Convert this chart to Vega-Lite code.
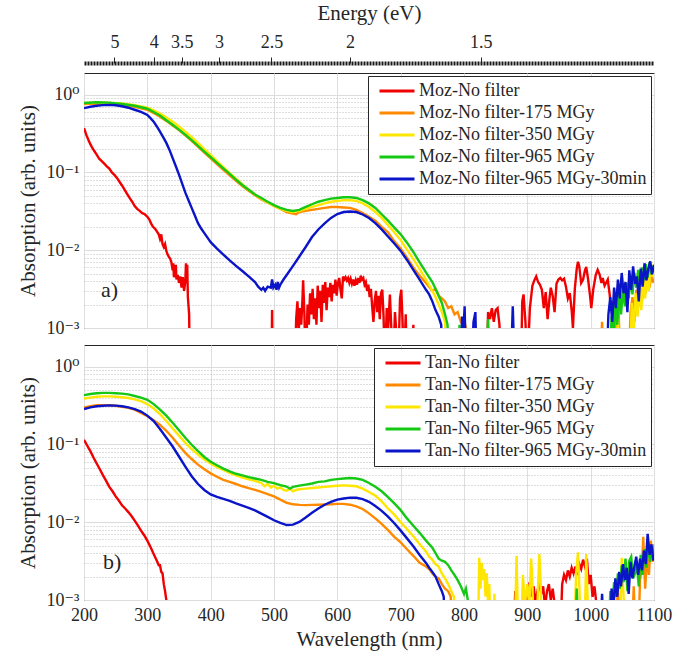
{
"$schema": "https://vega.github.io/schema/vega-lite/v6.json",
"padding": {"left": 16, "top": 1, "right": 6, "bottom": 2},
"config": {
  "font": "Liberation Serif, DejaVu Serif, serif",
  "view": {"stroke": "#262626", "strokeWidth": 1},
  "axis": {"labelFont": "Liberation Serif, DejaVu Serif, serif", "titleFont": "Liberation Serif, DejaVu Serif, serif", "labelFontSize": 18, "titleFontSize": 21, "titleFontWeight": "normal", "labelColor": "#262626", "titleColor": "#262626", "domain": false, "ticks": false, "gridColor": "#dedede", "gridWidth": 1},
  "legend": {"title": null, "orient": "top-right", "offset": 3, "fillColor": "white", "strokeColor": "#262626", "padding": 4, "symbolOffset": 6, "labelFont": "Liberation Serif, DejaVu Serif, serif", "labelFontSize": 18, "labelColor": "#262626", "symbolType": "stroke", "symbolStrokeWidth": 3, "symbolSize": 1225, "clipHeight": 22, "rowPadding": 0, "labelOffset": 3, "labelLimit": 400}
},
"datasets": {
"moz": [
{"s":1,"w":200,"v":0.37},{"s":1,"w":204,"v":0.3},{"s":1,"w":208,"v":0.25},{"s":1,"w":212,"v":0.215},{"s":1,"w":216,"v":0.19},{"s":1,"w":220,"v":0.17},{"s":1,"w":224,"v":0.15},{"s":1,"w":228,"v":0.14},{"s":1,"w":232,"v":0.13},{"s":1,"w":236,"v":0.12},{"s":1,"w":240,"v":0.112},{"s":1,"w":244,"v":0.1},{"s":1,"w":248,"v":0.093},{"s":1,"w":252,"v":0.085},{"s":1,"w":256,"v":0.076},{"s":1,"w":260,"v":0.068},{"s":1,"w":264,"v":0.06},{"s":1,"w":268,"v":0.053},{"s":1,"w":272,"v":0.047},{"s":1,"w":276,"v":0.042},{"s":1,"w":280,"v":0.037},{"s":1,"w":284,"v":0.034},{"s":1,"w":288,"v":0.032},{"s":1,"w":292,"v":0.03},{"s":1,"w":296,"v":0.029},{"s":1,"w":300,"v":0.027},{"s":1,"w":303,"v":0.025},{"s":1,"w":306,"v":0.022},{"s":1,"w":309,"v":0.02},{"s":1,"w":312,"v":0.019},{"s":1,"w":315,"v":0.0175},{"s":1,"w":318,"v":0.016},{"s":1,"w":320,"v":0.014},{"s":1,"w":322,"v":0.016},{"s":1,"w":324,"v":0.012},{"s":1,"w":326,"v":0.011},{"s":1,"w":328,"v":0.012},{"s":1,"w":330,"v":0.0098},{"s":1,"w":332,"v":0.0088},{"s":1,"w":334,"v":0.0082},{"s":1,"w":336,"v":0.0078},{"s":1,"w":338,"v":0.007},{"s":1,"w":340,"v":0.0055},{"s":1,"w":341,"v":0.0068},{"s":1,"w":342,"v":0.0045},{"s":1,"w":344,"v":0.0052},{"s":1,"w":345,"v":0.0065},{"s":1,"w":346,"v":0.0042},{"s":1,"w":348,"v":0.0048},{"s":1,"w":350,"v":0.0038},{"s":1,"w":352,"v":0.0046},{"s":1,"w":354,"v":0.0033},{"s":1,"w":356,"v":0.0045},{"s":1,"w":358,"v":0.003},{"s":1,"w":360,"v":0.004},{"s":1,"w":361,"v":0.0068},{"s":1,"w":362,"v":0.0045},{"s":1,"w":363,"v":0.0065},{"s":1,"w":364,"v":0.0025},{"s":1,"w":366,"v":0.0015},{"s":1,"w":367,"v":0.0003},{"s":1,"w":496,"v":0.0003},{"s":1,"w":497,"v":0.0017},{"s":1,"w":498,"v":0.0003},{"s":1,"w":533,"v":0.0003},{"s":1,"w":535,"v":0.0013},{"s":1,"w":537,"v":0.0022},{"s":1,"w":539,"v":0.0009},{"s":1,"w":541,"v":0.0018},{"s":1,"w":543,"v":0.0011},{"s":1,"w":545,"v":0.0024},{"s":1,"w":546,"v":0.0041},{"s":1,"w":548,"v":0.0015},{"s":1,"w":550,"v":0.0003},{"s":1,"w":553,"v":0.002},{"s":1,"w":555,"v":0.0011},{"s":1,"w":557,"v":0.0028},{"s":1,"w":559,"v":0.0015},{"s":1,"w":561,"v":0.0032},{"s":1,"w":563,"v":0.0013},{"s":1,"w":565,"v":0.0024},{"s":1,"w":567,"v":0.0011},{"s":1,"w":569,"v":0.0035},{"s":1,"w":571,"v":0.0018},{"s":1,"w":573,"v":0.003},{"s":1,"w":575,"v":0.0012},{"s":1,"w":577,"v":0.0036},{"s":1,"w":579,"v":0.0021},{"s":1,"w":581,"v":0.0039},{"s":1,"w":583,"v":0.0017},{"s":1,"w":585,"v":0.0033},{"s":1,"w":587,"v":0.0025},{"s":1,"w":589,"v":0.0038},{"s":1,"w":591,"v":0.0022},{"s":1,"w":593,"v":0.0036},{"s":1,"w":595,"v":0.0028},{"s":1,"w":597,"v":0.0042},{"s":1,"w":599,"v":0.0026},{"s":1,"w":601,"v":0.0038},{"s":1,"w":603,"v":0.0044},{"s":1,"w":605,"v":0.0031},{"s":1,"w":607,"v":0.0024},{"s":1,"w":609,"v":0.0046},{"s":1,"w":611,"v":0.0042},{"s":1,"w":613,"v":0.0045},{"s":1,"w":615,"v":0.0041},{"s":1,"w":617,"v":0.0044},{"s":1,"w":619,"v":0.0038},{"s":1,"w":621,"v":0.0043},{"s":1,"w":623,"v":0.0037},{"s":1,"w":625,"v":0.0042},{"s":1,"w":627,"v":0.0035},{"s":1,"w":629,"v":0.0041},{"s":1,"w":631,"v":0.0036},{"s":1,"w":633,"v":0.0044},{"s":1,"w":635,"v":0.0038},{"s":1,"w":637,"v":0.0047},{"s":1,"w":639,"v":0.0042},{"s":1,"w":641,"v":0.0044},{"s":1,"w":643,"v":0.0036},{"s":1,"w":645,"v":0.0039},{"s":1,"w":647,"v":0.003},{"s":1,"w":649,"v":0.0036},{"s":1,"w":651,"v":0.0025},{"s":1,"w":653,"v":0.0032},{"s":1,"w":655,"v":0.0019},{"s":1,"w":657,"v":0.0012},{"s":1,"w":659,"v":0.0022},{"s":1,"w":661,"v":0.003},{"s":1,"w":663,"v":0.0016},{"s":1,"w":665,"v":0.0026},{"s":1,"w":667,"v":0.0013},{"s":1,"w":669,"v":0.0028},{"s":1,"w":671,"v":0.0031},{"s":1,"w":673,"v":0.0014},{"s":1,"w":675,"v":0.0003},{"s":1,"w":678,"v":0.0018},{"s":1,"w":680,"v":0.0009},{"s":1,"w":683,"v":0.0027},{"s":1,"w":685,"v":0.0011},{"s":1,"w":688,"v":0.0003},{"s":1,"w":691,"v":0.0016},{"s":1,"w":693,"v":0.0009},{"s":1,"w":696,"v":0.0003},{"s":1,"w":699,"v":0.0024},{"s":1,"w":701,"v":0.0031},{"s":1,"w":703,"v":0.0012},{"s":1,"w":705,"v":0.0003},{"s":1,"w":708,"v":0.0015},{"s":1,"w":710,"v":0.0003},{"s":1,"w":718,"v":0.0003},{"s":1,"w":720,"v":0.0011},{"s":1,"w":722,"v":0.0003},{"s":1,"w":836,"v":0.0003},{"s":1,"w":838,"v":0.0016},{"s":1,"w":841,"v":0.0013},{"s":1,"w":844,"v":0.0018},{"s":1,"w":847,"v":0.0012},{"s":1,"w":850,"v":0.0017},{"s":1,"w":853,"v":0.0018},{"s":1,"w":856,"v":0.0011},{"s":1,"w":858,"v":0.0003},{"s":1,"w":890,"v":0.0003},{"s":1,"w":892,"v":0.0022},{"s":1,"w":894,"v":0.0027},{"s":1,"w":897,"v":0.0012},{"s":1,"w":900,"v":0.0003},{"s":1,"w":904,"v":0.0018},{"s":1,"w":908,"v":0.0035},{"s":1,"w":911,"v":0.0041},{"s":1,"w":914,"v":0.0046},{"s":1,"w":917,"v":0.0039},{"s":1,"w":920,"v":0.0036},{"s":1,"w":923,"v":0.0031},{"s":1,"w":926,"v":0.0018},{"s":1,"w":929,"v":0.0029},{"s":1,"w":932,"v":0.0013},{"s":1,"w":935,"v":0.0024},{"s":1,"w":937,"v":0.0033},{"s":1,"w":940,"v":0.0026},{"s":1,"w":943,"v":0.0016},{"s":1,"w":946,"v":0.0037},{"s":1,"w":949,"v":0.0042},{"s":1,"w":952,"v":0.0044},{"s":1,"w":955,"v":0.0041},{"s":1,"w":958,"v":0.0043},{"s":1,"w":961,"v":0.0034},{"s":1,"w":964,"v":0.0024},{"s":1,"w":967,"v":0.0028},{"s":1,"w":970,"v":0.0017},{"s":1,"w":972,"v":0.001},{"s":1,"w":975,"v":0.0032},{"s":1,"w":978,"v":0.0058},{"s":1,"w":980,"v":0.0071},{"s":1,"w":982,"v":0.0062},{"s":1,"w":985,"v":0.0038},{"s":1,"w":988,"v":0.0042},{"s":1,"w":991,"v":0.0055},{"s":1,"w":993,"v":0.0061},{"s":1,"w":996,"v":0.0042},{"s":1,"w":999,"v":0.0026},{"s":1,"w":1001,"v":0.0018},{"s":1,"w":1004,"v":0.0031},{"s":1,"w":1008,"v":0.0048},{"s":1,"w":1011,"v":0.0056},{"s":1,"w":1014,"v":0.0049},{"s":1,"w":1017,"v":0.0038},{"s":1,"w":1019,"v":0.0044},{"s":1,"w":1022,"v":0.0035},{"s":1,"w":1025,"v":0.0039},{"s":1,"w":1027,"v":0.0042},{"s":1,"w":1030,"v":0.0027},{"s":1,"w":1032,"v":0.0018},{"s":1,"w":1035,"v":0.0022},{"s":1,"w":1038,"v":0.0012},{"s":1,"w":1041,"v":0.0003},{"s":1,"w":1100,"v":0.0003},
{"s":2,"w":200,"v":0.76},{"s":2,"w":220,"v":0.77},{"s":2,"w":240,"v":0.76},{"s":2,"w":260,"v":0.74},{"s":2,"w":280,"v":0.7},{"s":2,"w":300,"v":0.64},{"s":2,"w":310,"v":0.58},{"s":2,"w":320,"v":0.52},{"s":2,"w":330,"v":0.46},{"s":2,"w":340,"v":0.4},{"s":2,"w":350,"v":0.35},{"s":2,"w":360,"v":0.3},{"s":2,"w":370,"v":0.255},{"s":2,"w":380,"v":0.215},{"s":2,"w":390,"v":0.18},{"s":2,"w":400,"v":0.152},{"s":2,"w":410,"v":0.128},{"s":2,"w":420,"v":0.108},{"s":2,"w":430,"v":0.092},{"s":2,"w":440,"v":0.078},{"s":2,"w":450,"v":0.067},{"s":2,"w":460,"v":0.058},{"s":2,"w":470,"v":0.051},{"s":2,"w":480,"v":0.045},{"s":2,"w":490,"v":0.041},{"s":2,"w":500,"v":0.037},{"s":2,"w":510,"v":0.034},{"s":2,"w":520,"v":0.031},{"s":2,"w":530,"v":0.0295},{"s":2,"w":535,"v":0.029},{"s":2,"w":540,"v":0.031},{"s":2,"w":550,"v":0.032},{"s":2,"w":560,"v":0.033},{"s":2,"w":570,"v":0.034},{"s":2,"w":580,"v":0.035},{"s":2,"w":590,"v":0.036},{"s":2,"w":600,"v":0.036},{"s":2,"w":610,"v":0.0355},{"s":2,"w":620,"v":0.035},{"s":2,"w":630,"v":0.033},{"s":2,"w":640,"v":0.03},{"s":2,"w":650,"v":0.027},{"s":2,"w":660,"v":0.024},{"s":2,"w":670,"v":0.02},{"s":2,"w":680,"v":0.017},{"s":2,"w":690,"v":0.013},{"s":2,"w":700,"v":0.0105},{"s":2,"w":710,"v":0.008},{"s":2,"w":720,"v":0.006},{"s":2,"w":730,"v":0.0047},{"s":2,"w":740,"v":0.0038},{"s":2,"w":750,"v":0.003},{"s":2,"w":755,"v":0.0032},{"s":2,"w":760,"v":0.0026},{"s":2,"w":765,"v":0.0024},{"s":2,"w":770,"v":0.0022},{"s":2,"w":775,"v":0.0018},{"s":2,"w":780,"v":0.0019},{"s":2,"w":785,"v":0.0015},{"s":2,"w":790,"v":0.0016},{"s":2,"w":795,"v":0.0012},{"s":2,"w":800,"v":0.0013},{"s":2,"w":803,"v":0.001},{"s":2,"w":805,"v":0.0003},{"s":2,"w":1015,"v":0.0003},{"s":2,"w":1018,"v":0.0012},{"s":2,"w":1021,"v":0.0003},{"s":2,"w":1035,"v":0.0003},{"s":2,"w":1038,"v":0.0014},{"s":2,"w":1041,"v":0.0009},{"s":2,"w":1044,"v":0.0018},{"s":2,"w":1047,"v":0.0003},{"s":2,"w":1060,"v":0.0003},{"s":2,"w":1063,"v":0.0016},{"s":2,"w":1066,"v":0.0025},{"s":2,"w":1069,"v":0.0012},{"s":2,"w":1072,"v":0.0031},{"s":2,"w":1075,"v":0.0019},{"s":2,"w":1078,"v":0.0035},{"s":2,"w":1081,"v":0.0022},{"s":2,"w":1084,"v":0.0041},{"s":2,"w":1087,"v":0.0028},{"s":2,"w":1090,"v":0.0046},{"s":2,"w":1093,"v":0.0033},{"s":2,"w":1096,"v":0.005},{"s":2,"w":1099,"v":0.0038},
{"s":3,"w":200,"v":0.78},{"s":3,"w":220,"v":0.79},{"s":3,"w":240,"v":0.78},{"s":3,"w":260,"v":0.77},{"s":3,"w":280,"v":0.73},{"s":3,"w":300,"v":0.68},{"s":3,"w":310,"v":0.63},{"s":3,"w":320,"v":0.57},{"s":3,"w":330,"v":0.51},{"s":3,"w":340,"v":0.45},{"s":3,"w":350,"v":0.39},{"s":3,"w":360,"v":0.335},{"s":3,"w":370,"v":0.285},{"s":3,"w":380,"v":0.24},{"s":3,"w":390,"v":0.2},{"s":3,"w":400,"v":0.168},{"s":3,"w":410,"v":0.14},{"s":3,"w":420,"v":0.117},{"s":3,"w":430,"v":0.098},{"s":3,"w":440,"v":0.083},{"s":3,"w":450,"v":0.07},{"s":3,"w":460,"v":0.06},{"s":3,"w":470,"v":0.052},{"s":3,"w":480,"v":0.046},{"s":3,"w":490,"v":0.041},{"s":3,"w":500,"v":0.037},{"s":3,"w":510,"v":0.034},{"s":3,"w":520,"v":0.032},{"s":3,"w":530,"v":0.031},{"s":3,"w":540,"v":0.032},{"s":3,"w":550,"v":0.034},{"s":3,"w":560,"v":0.036},{"s":3,"w":570,"v":0.038},{"s":3,"w":580,"v":0.04},{"s":3,"w":590,"v":0.042},{"s":3,"w":600,"v":0.043},{"s":3,"w":610,"v":0.044},{"s":3,"w":620,"v":0.044},{"s":3,"w":630,"v":0.043},{"s":3,"w":640,"v":0.04},{"s":3,"w":650,"v":0.036},{"s":3,"w":660,"v":0.031},{"s":3,"w":670,"v":0.026},{"s":3,"w":680,"v":0.021},{"s":3,"w":690,"v":0.017},{"s":3,"w":700,"v":0.0135},{"s":3,"w":710,"v":0.0102},{"s":3,"w":720,"v":0.0077},{"s":3,"w":730,"v":0.0057},{"s":3,"w":740,"v":0.0042},{"s":3,"w":750,"v":0.003},{"s":3,"w":755,"v":0.0025},{"s":3,"w":760,"v":0.002},{"s":3,"w":765,"v":0.0016},{"s":3,"w":770,"v":0.0012},{"s":3,"w":773,"v":0.0003},{"s":3,"w":1040,"v":0.0003},{"s":3,"w":1043,"v":0.0013},{"s":3,"w":1046,"v":0.0003},{"s":3,"w":1062,"v":0.0003},{"s":3,"w":1065,"v":0.0021},{"s":3,"w":1068,"v":0.0009},{"s":3,"w":1071,"v":0.0028},{"s":3,"w":1074,"v":0.0014},{"s":3,"w":1077,"v":0.0035},{"s":3,"w":1080,"v":0.0017},{"s":3,"w":1083,"v":0.0042},{"s":3,"w":1086,"v":0.0024},{"s":3,"w":1089,"v":0.0052},{"s":3,"w":1092,"v":0.003},{"s":3,"w":1095,"v":0.0072},{"s":3,"w":1098,"v":0.0045},
{"s":4,"w":200,"v":0.78},{"s":4,"w":220,"v":0.8},{"s":4,"w":240,"v":0.79},{"s":4,"w":260,"v":0.76},{"s":4,"w":280,"v":0.72},{"s":4,"w":300,"v":0.66},{"s":4,"w":310,"v":0.6},{"s":4,"w":320,"v":0.54},{"s":4,"w":330,"v":0.47},{"s":4,"w":340,"v":0.41},{"s":4,"w":350,"v":0.355},{"s":4,"w":360,"v":0.305},{"s":4,"w":370,"v":0.26},{"s":4,"w":380,"v":0.22},{"s":4,"w":390,"v":0.185},{"s":4,"w":400,"v":0.157},{"s":4,"w":410,"v":0.133},{"s":4,"w":420,"v":0.113},{"s":4,"w":430,"v":0.096},{"s":4,"w":440,"v":0.081},{"s":4,"w":450,"v":0.069},{"s":4,"w":460,"v":0.06},{"s":4,"w":470,"v":0.052},{"s":4,"w":480,"v":0.047},{"s":4,"w":490,"v":0.042},{"s":4,"w":500,"v":0.038},{"s":4,"w":510,"v":0.035},{"s":4,"w":520,"v":0.033},{"s":4,"w":530,"v":0.032},{"s":4,"w":540,"v":0.033},{"s":4,"w":550,"v":0.036},{"s":4,"w":560,"v":0.039},{"s":4,"w":570,"v":0.042},{"s":4,"w":580,"v":0.044},{"s":4,"w":590,"v":0.046},{"s":4,"w":600,"v":0.047},{"s":4,"w":610,"v":0.048},{"s":4,"w":620,"v":0.048},{"s":4,"w":630,"v":0.047},{"s":4,"w":640,"v":0.044},{"s":4,"w":650,"v":0.04},{"s":4,"w":660,"v":0.035},{"s":4,"w":670,"v":0.029},{"s":4,"w":680,"v":0.024},{"s":4,"w":690,"v":0.0195},{"s":4,"w":700,"v":0.016},{"s":4,"w":710,"v":0.0125},{"s":4,"w":720,"v":0.0095},{"s":4,"w":730,"v":0.007},{"s":4,"w":740,"v":0.0052},{"s":4,"w":750,"v":0.0039},{"s":4,"w":755,"v":0.0032},{"s":4,"w":760,"v":0.0026},{"s":4,"w":765,"v":0.0021},{"s":4,"w":770,"v":0.0015},{"s":4,"w":774,"v":0.0011},{"s":4,"w":776,"v":0.0003},{"s":4,"w":790,"v":0.0003},{"s":4,"w":793,"v":0.0011},{"s":4,"w":796,"v":0.0003},{"s":4,"w":835,"v":0.0003},{"s":4,"w":838,"v":0.0013},{"s":4,"w":841,"v":0.0003},{"s":4,"w":1030,"v":0.0003},{"s":4,"w":1033,"v":0.0014},{"s":4,"w":1036,"v":0.0008},{"s":4,"w":1039,"v":0.0022},{"s":4,"w":1042,"v":0.0011},{"s":4,"w":1045,"v":0.0028},{"s":4,"w":1048,"v":0.0015},{"s":4,"w":1051,"v":0.0032},{"s":4,"w":1054,"v":0.0019},{"s":4,"w":1057,"v":0.0038},{"s":4,"w":1060,"v":0.0024},{"s":4,"w":1063,"v":0.0045},{"s":4,"w":1066,"v":0.0027},{"s":4,"w":1069,"v":0.0051},{"s":4,"w":1072,"v":0.0033},{"s":4,"w":1075,"v":0.0056},{"s":4,"w":1078,"v":0.0036},{"s":4,"w":1081,"v":0.006},{"s":4,"w":1084,"v":0.0041},{"s":4,"w":1087,"v":0.0066},{"s":4,"w":1090,"v":0.0044},{"s":4,"w":1093,"v":0.007},{"s":4,"w":1096,"v":0.0049},{"s":4,"w":1099,"v":0.0063},
{"s":5,"w":200,"v":0.67},{"s":5,"w":210,"v":0.7},{"s":5,"w":220,"v":0.72},{"s":5,"w":230,"v":0.735},{"s":5,"w":240,"v":0.74},{"s":5,"w":250,"v":0.73},{"s":5,"w":260,"v":0.71},{"s":5,"w":270,"v":0.68},{"s":5,"w":280,"v":0.64},{"s":5,"w":290,"v":0.6},{"s":5,"w":300,"v":0.55},{"s":5,"w":305,"v":0.5},{"s":5,"w":310,"v":0.45},{"s":5,"w":315,"v":0.39},{"s":5,"w":320,"v":0.335},{"s":5,"w":325,"v":0.285},{"s":5,"w":330,"v":0.24},{"s":5,"w":335,"v":0.195},{"s":5,"w":340,"v":0.153},{"s":5,"w":345,"v":0.12},{"s":5,"w":350,"v":0.094},{"s":5,"w":355,"v":0.072},{"s":5,"w":360,"v":0.055},{"s":5,"w":365,"v":0.044},{"s":5,"w":370,"v":0.035},{"s":5,"w":375,"v":0.028},{"s":5,"w":380,"v":0.0223},{"s":5,"w":385,"v":0.019},{"s":5,"w":390,"v":0.0166},{"s":5,"w":395,"v":0.0145},{"s":5,"w":400,"v":0.0127},{"s":5,"w":410,"v":0.0105},{"s":5,"w":420,"v":0.0088},{"s":5,"w":430,"v":0.0074},{"s":5,"w":440,"v":0.0063},{"s":5,"w":450,"v":0.0054},{"s":5,"w":460,"v":0.0046},{"s":5,"w":470,"v":0.0039},{"s":5,"w":475,"v":0.0034},{"s":5,"w":480,"v":0.0031},{"s":5,"w":483,"v":0.0033},{"s":5,"w":486,"v":0.003},{"s":5,"w":490,"v":0.0034},{"s":5,"w":495,"v":0.0033},{"s":5,"w":497,"v":0.0042},{"s":5,"w":499,"v":0.0033},{"s":5,"w":502,"v":0.0036},{"s":5,"w":504,"v":0.0031},{"s":5,"w":506,"v":0.0039},{"s":5,"w":508,"v":0.0033},{"s":5,"w":510,"v":0.0036},{"s":5,"w":515,"v":0.0042},{"s":5,"w":520,"v":0.0048},{"s":5,"w":530,"v":0.0063},{"s":5,"w":540,"v":0.0083},{"s":5,"w":550,"v":0.011},{"s":5,"w":560,"v":0.0148},{"s":5,"w":570,"v":0.0185},{"s":5,"w":580,"v":0.0222},{"s":5,"w":590,"v":0.026},{"s":5,"w":600,"v":0.0292},{"s":5,"w":610,"v":0.031},{"s":5,"w":620,"v":0.0315},{"s":5,"w":630,"v":0.031},{"s":5,"w":640,"v":0.0288},{"s":5,"w":650,"v":0.026},{"s":5,"w":660,"v":0.0223},{"s":5,"w":670,"v":0.0185},{"s":5,"w":680,"v":0.015},{"s":5,"w":690,"v":0.0122},{"s":5,"w":700,"v":0.0098},{"s":5,"w":710,"v":0.0075},{"s":5,"w":720,"v":0.0056},{"s":5,"w":730,"v":0.0042},{"s":5,"w":740,"v":0.0031},{"s":5,"w":745,"v":0.0027},{"s":5,"w":750,"v":0.0022},{"s":5,"w":755,"v":0.0017},{"s":5,"w":760,"v":0.0014},{"s":5,"w":764,"v":0.0011},{"s":5,"w":766,"v":0.0003},{"s":5,"w":795,"v":0.0003},{"s":5,"w":797,"v":0.0014},{"s":5,"w":799,"v":0.0009},{"s":5,"w":801,"v":0.0019},{"s":5,"w":803,"v":0.0003},{"s":5,"w":812,"v":0.0003},{"s":5,"w":815,"v":0.0012},{"s":5,"w":818,"v":0.0016},{"s":5,"w":820,"v":0.0003},{"s":5,"w":874,"v":0.0003},{"s":5,"w":877,"v":0.0019},{"s":5,"w":880,"v":0.0003},{"s":5,"w":1025,"v":0.0003},{"s":5,"w":1028,"v":0.0015},{"s":5,"w":1031,"v":0.0025},{"s":5,"w":1034,"v":0.0012},{"s":5,"w":1037,"v":0.0033},{"s":5,"w":1040,"v":0.0018},{"s":5,"w":1043,"v":0.0042},{"s":5,"w":1046,"v":0.0024},{"s":5,"w":1049,"v":0.0051},{"s":5,"w":1052,"v":0.0028},{"s":5,"w":1055,"v":0.0039},{"s":5,"w":1058,"v":0.0016},{"s":5,"w":1061,"v":0.0055},{"s":5,"w":1064,"v":0.0031},{"s":5,"w":1067,"v":0.0062},{"s":5,"w":1070,"v":0.0037},{"s":5,"w":1073,"v":0.0046},{"s":5,"w":1076,"v":0.0022},{"s":5,"w":1079,"v":0.0058},{"s":5,"w":1082,"v":0.0034},{"s":5,"w":1085,"v":0.0068},{"s":5,"w":1088,"v":0.0041},{"s":5,"w":1091,"v":0.0057},{"s":5,"w":1094,"v":0.0072},{"s":5,"w":1097,"v":0.0049},{"s":5,"w":1100,"v":0.0065}
],
"tan": [
{"s":1,"w":200,"v":0.115},{"s":1,"w":205,"v":0.097},{"s":1,"w":210,"v":0.082},{"s":1,"w":215,"v":0.068},{"s":1,"w":220,"v":0.057},{"s":1,"w":225,"v":0.048},{"s":1,"w":230,"v":0.04},{"s":1,"w":235,"v":0.034},{"s":1,"w":240,"v":0.0285},{"s":1,"w":245,"v":0.025},{"s":1,"w":250,"v":0.0215},{"s":1,"w":255,"v":0.019},{"s":1,"w":260,"v":0.0165},{"s":1,"w":265,"v":0.015},{"s":1,"w":270,"v":0.0135},{"s":1,"w":275,"v":0.012},{"s":1,"w":280,"v":0.0105},{"s":1,"w":285,"v":0.0091},{"s":1,"w":290,"v":0.0078},{"s":1,"w":295,"v":0.0068},{"s":1,"w":300,"v":0.0058},{"s":1,"w":305,"v":0.0048},{"s":1,"w":310,"v":0.0039},{"s":1,"w":315,"v":0.0032},{"s":1,"w":318,"v":0.0028},{"s":1,"w":320,"v":0.0028},{"s":1,"w":322,"v":0.0023},{"s":1,"w":324,"v":0.0022},{"s":1,"w":326,"v":0.0016},{"s":1,"w":328,"v":0.0013},{"s":1,"w":330,"v":0.001},{"s":1,"w":332,"v":0.0003},{"s":1,"w":878,"v":0.0003},{"s":1,"w":881,"v":0.0013},{"s":1,"w":884,"v":0.0003},{"s":1,"w":898,"v":0.0003},{"s":1,"w":901,"v":0.0014},{"s":1,"w":904,"v":0.0017},{"s":1,"w":907,"v":0.0011},{"s":1,"w":910,"v":0.0015},{"s":1,"w":913,"v":0.0009},{"s":1,"w":916,"v":0.0013},{"s":1,"w":919,"v":0.0017},{"s":1,"w":922,"v":0.0012},{"s":1,"w":925,"v":0.0015},{"s":1,"w":928,"v":0.0008},{"s":1,"w":931,"v":0.0013},{"s":1,"w":934,"v":0.0016},{"s":1,"w":937,"v":0.001},{"s":1,"w":940,"v":0.0014},{"s":1,"w":943,"v":0.0009},{"s":1,"w":946,"v":0.0003},{"s":1,"w":952,"v":0.0003},{"s":1,"w":955,"v":0.0016},{"s":1,"w":958,"v":0.0021},{"s":1,"w":961,"v":0.0018},{"s":1,"w":964,"v":0.0024},{"s":1,"w":967,"v":0.002},{"s":1,"w":970,"v":0.0026},{"s":1,"w":973,"v":0.0022},{"s":1,"w":976,"v":0.0027},{"s":1,"w":979,"v":0.0021},{"s":1,"w":982,"v":0.0029},{"s":1,"w":985,"v":0.0025},{"s":1,"w":988,"v":0.0033},{"s":1,"w":991,"v":0.0027},{"s":1,"w":994,"v":0.0034},{"s":1,"w":997,"v":0.0016},{"s":1,"w":1000,"v":0.0021},{"s":1,"w":1003,"v":0.0011},{"s":1,"w":1006,"v":0.0015},{"s":1,"w":1009,"v":0.0009},{"s":1,"w":1012,"v":0.0003},{"s":1,"w":1100,"v":0.0003},
{"s":2,"w":200,"v":0.3},{"s":2,"w":210,"v":0.31},{"s":2,"w":220,"v":0.32},{"s":2,"w":230,"v":0.32},{"s":2,"w":240,"v":0.32},{"s":2,"w":250,"v":0.315},{"s":2,"w":260,"v":0.305},{"s":2,"w":270,"v":0.295},{"s":2,"w":280,"v":0.28},{"s":2,"w":290,"v":0.255},{"s":2,"w":300,"v":0.23},{"s":2,"w":310,"v":0.205},{"s":2,"w":320,"v":0.178},{"s":2,"w":330,"v":0.15},{"s":2,"w":340,"v":0.122},{"s":2,"w":350,"v":0.097},{"s":2,"w":360,"v":0.078},{"s":2,"w":370,"v":0.065},{"s":2,"w":380,"v":0.055},{"s":2,"w":390,"v":0.048},{"s":2,"w":400,"v":0.0425},{"s":2,"w":410,"v":0.0385},{"s":2,"w":420,"v":0.035},{"s":2,"w":430,"v":0.033},{"s":2,"w":440,"v":0.031},{"s":2,"w":450,"v":0.029},{"s":2,"w":460,"v":0.0275},{"s":2,"w":470,"v":0.026},{"s":2,"w":480,"v":0.0245},{"s":2,"w":490,"v":0.023},{"s":2,"w":500,"v":0.0215},{"s":2,"w":510,"v":0.0195},{"s":2,"w":520,"v":0.0178},{"s":2,"w":530,"v":0.017},{"s":2,"w":540,"v":0.0167},{"s":2,"w":550,"v":0.0166},{"s":2,"w":560,"v":0.0167},{"s":2,"w":570,"v":0.0168},{"s":2,"w":580,"v":0.0169},{"s":2,"w":590,"v":0.017},{"s":2,"w":600,"v":0.0172},{"s":2,"w":610,"v":0.0172},{"s":2,"w":620,"v":0.0168},{"s":2,"w":630,"v":0.016},{"s":2,"w":640,"v":0.0148},{"s":2,"w":650,"v":0.013},{"s":2,"w":660,"v":0.0112},{"s":2,"w":670,"v":0.0095},{"s":2,"w":680,"v":0.0079},{"s":2,"w":690,"v":0.0065},{"s":2,"w":700,"v":0.0055},{"s":2,"w":710,"v":0.0045},{"s":2,"w":720,"v":0.0037},{"s":2,"w":730,"v":0.003},{"s":2,"w":740,"v":0.0027},{"s":2,"w":745,"v":0.0025},{"s":2,"w":750,"v":0.0022},{"s":2,"w":755,"v":0.002},{"s":2,"w":760,"v":0.0019},{"s":2,"w":765,"v":0.0016},{"s":2,"w":770,"v":0.0014},{"s":2,"w":775,"v":0.0013},{"s":2,"w":779,"v":0.0011},{"s":2,"w":781,"v":0.0003},{"s":2,"w":1040,"v":0.0003},{"s":2,"w":1043,"v":0.0016},{"s":2,"w":1046,"v":0.0003},{"s":2,"w":1065,"v":0.0003},{"s":2,"w":1068,"v":0.0015},{"s":2,"w":1071,"v":0.0003},{"s":2,"w":1075,"v":0.0003},{"s":2,"w":1078,"v":0.0018},{"s":2,"w":1081,"v":0.0026},{"s":2,"w":1083,"v":0.0065},{"s":2,"w":1086,"v":0.0014},{"s":2,"w":1089,"v":0.0035},{"s":2,"w":1092,"v":0.0021},{"s":2,"w":1095,"v":0.0058},{"s":2,"w":1098,"v":0.0031},{"s":2,"w":1100,"v":0.0052},
{"s":3,"w":200,"v":0.39},{"s":3,"w":210,"v":0.4},{"s":3,"w":220,"v":0.41},{"s":3,"w":230,"v":0.415},{"s":3,"w":240,"v":0.415},{"s":3,"w":250,"v":0.41},{"s":3,"w":260,"v":0.405},{"s":3,"w":270,"v":0.395},{"s":3,"w":280,"v":0.38},{"s":3,"w":290,"v":0.36},{"s":3,"w":300,"v":0.33},{"s":3,"w":310,"v":0.29},{"s":3,"w":320,"v":0.245},{"s":3,"w":330,"v":0.2},{"s":3,"w":340,"v":0.16},{"s":3,"w":350,"v":0.13},{"s":3,"w":360,"v":0.105},{"s":3,"w":370,"v":0.087},{"s":3,"w":380,"v":0.074},{"s":3,"w":390,"v":0.064},{"s":3,"w":400,"v":0.057},{"s":3,"w":410,"v":0.051},{"s":3,"w":420,"v":0.047},{"s":3,"w":430,"v":0.043},{"s":3,"w":440,"v":0.04},{"s":3,"w":450,"v":0.0375},{"s":3,"w":460,"v":0.0355},{"s":3,"w":470,"v":0.034},{"s":3,"w":480,"v":0.032},{"s":3,"w":485,"v":0.029},{"s":3,"w":490,"v":0.031},{"s":3,"w":495,"v":0.028},{"s":3,"w":500,"v":0.0295},{"s":3,"w":505,"v":0.027},{"s":3,"w":510,"v":0.028},{"s":3,"w":515,"v":0.026},{"s":3,"w":520,"v":0.0255},{"s":3,"w":525,"v":0.027},{"s":3,"w":530,"v":0.025},{"s":3,"w":535,"v":0.026},{"s":3,"w":540,"v":0.0265},{"s":3,"w":550,"v":0.027},{"s":3,"w":560,"v":0.0275},{"s":3,"w":570,"v":0.028},{"s":3,"w":580,"v":0.0285},{"s":3,"w":590,"v":0.029},{"s":3,"w":600,"v":0.0295},{"s":3,"w":610,"v":0.0298},{"s":3,"w":620,"v":0.0295},{"s":3,"w":630,"v":0.029},{"s":3,"w":640,"v":0.027},{"s":3,"w":650,"v":0.0245},{"s":3,"w":660,"v":0.022},{"s":3,"w":670,"v":0.0185},{"s":3,"w":680,"v":0.015},{"s":3,"w":690,"v":0.0125},{"s":3,"w":700,"v":0.01},{"s":3,"w":710,"v":0.0082},{"s":3,"w":720,"v":0.0066},{"s":3,"w":730,"v":0.0052},{"s":3,"w":740,"v":0.0042},{"s":3,"w":745,"v":0.0036},{"s":3,"w":750,"v":0.0033},{"s":3,"w":755,"v":0.0029},{"s":3,"w":760,"v":0.0027},{"s":3,"w":765,"v":0.0022},{"s":3,"w":770,"v":0.0019},{"s":3,"w":775,"v":0.0016},{"s":3,"w":780,"v":0.0013},{"s":3,"w":784,"v":0.0011},{"s":3,"w":786,"v":0.0003},{"s":3,"w":822,"v":0.0003},{"s":3,"w":824,"v":0.0035},{"s":3,"w":826,"v":0.0014},{"s":3,"w":828,"v":0.003},{"s":3,"w":830,"v":0.0018},{"s":3,"w":832,"v":0.0025},{"s":3,"w":834,"v":0.0011},{"s":3,"w":836,"v":0.0022},{"s":3,"w":838,"v":0.0009},{"s":3,"w":840,"v":0.0016},{"s":3,"w":842,"v":0.0003},{"s":3,"w":846,"v":0.0003},{"s":3,"w":848,"v":0.0012},{"s":3,"w":850,"v":0.0003},{"s":3,"w":880,"v":0.0003},{"s":3,"w":883,"v":0.0037},{"s":3,"w":886,"v":0.0003},{"s":3,"w":890,"v":0.0003},{"s":3,"w":893,"v":0.0021},{"s":3,"w":896,"v":0.0009},{"s":3,"w":900,"v":0.0016},{"s":3,"w":903,"v":0.0008},{"s":3,"w":906,"v":0.0034},{"s":3,"w":908,"v":0.0017},{"s":3,"w":910,"v":0.0003},{"s":3,"w":914,"v":0.0003},{"s":3,"w":917,"v":0.0015},{"s":3,"w":919,"v":0.0039},{"s":3,"w":921,"v":0.0018},{"s":3,"w":923,"v":0.0003},{"s":3,"w":974,"v":0.0003},{"s":3,"w":977,"v":0.0022},{"s":3,"w":980,"v":0.0041},{"s":3,"w":982,"v":0.0016},{"s":3,"w":985,"v":0.0003},{"s":3,"w":990,"v":0.0003},{"s":3,"w":993,"v":0.0039},{"s":3,"w":995,"v":0.0012},{"s":3,"w":997,"v":0.0003},{"s":3,"w":1046,"v":0.0003},{"s":3,"w":1049,"v":0.0035},{"s":3,"w":1052,"v":0.0011},{"s":3,"w":1055,"v":0.0003},{"s":3,"w":1100,"v":0.0003},
{"s":4,"w":200,"v":0.43},{"s":4,"w":210,"v":0.445},{"s":4,"w":220,"v":0.455},{"s":4,"w":230,"v":0.46},{"s":4,"w":240,"v":0.46},{"s":4,"w":250,"v":0.455},{"s":4,"w":260,"v":0.45},{"s":4,"w":270,"v":0.44},{"s":4,"w":280,"v":0.42},{"s":4,"w":290,"v":0.4},{"s":4,"w":300,"v":0.375},{"s":4,"w":310,"v":0.33},{"s":4,"w":320,"v":0.28},{"s":4,"w":330,"v":0.235},{"s":4,"w":340,"v":0.19},{"s":4,"w":350,"v":0.152},{"s":4,"w":360,"v":0.122},{"s":4,"w":370,"v":0.099},{"s":4,"w":380,"v":0.082},{"s":4,"w":390,"v":0.069},{"s":4,"w":400,"v":0.06},{"s":4,"w":410,"v":0.054},{"s":4,"w":420,"v":0.049},{"s":4,"w":430,"v":0.045},{"s":4,"w":440,"v":0.042},{"s":4,"w":450,"v":0.04},{"s":4,"w":460,"v":0.038},{"s":4,"w":470,"v":0.0365},{"s":4,"w":480,"v":0.035},{"s":4,"w":490,"v":0.033},{"s":4,"w":500,"v":0.0318},{"s":4,"w":510,"v":0.03},{"s":4,"w":520,"v":0.0288},{"s":4,"w":525,"v":0.027},{"s":4,"w":530,"v":0.0285},{"s":4,"w":540,"v":0.0295},{"s":4,"w":550,"v":0.0305},{"s":4,"w":560,"v":0.0315},{"s":4,"w":570,"v":0.033},{"s":4,"w":580,"v":0.0335},{"s":4,"w":590,"v":0.035},{"s":4,"w":600,"v":0.0358},{"s":4,"w":610,"v":0.0365},{"s":4,"w":620,"v":0.037},{"s":4,"w":630,"v":0.0365},{"s":4,"w":640,"v":0.035},{"s":4,"w":650,"v":0.032},{"s":4,"w":660,"v":0.0285},{"s":4,"w":670,"v":0.025},{"s":4,"w":680,"v":0.021},{"s":4,"w":690,"v":0.0175},{"s":4,"w":700,"v":0.0143},{"s":4,"w":710,"v":0.0112},{"s":4,"w":720,"v":0.009},{"s":4,"w":730,"v":0.0073},{"s":4,"w":740,"v":0.0058},{"s":4,"w":750,"v":0.0047},{"s":4,"w":755,"v":0.004},{"s":4,"w":760,"v":0.0034},{"s":4,"w":765,"v":0.0032},{"s":4,"w":770,"v":0.0031},{"s":4,"w":775,"v":0.0028},{"s":4,"w":780,"v":0.0024},{"s":4,"w":785,"v":0.0021},{"s":4,"w":790,"v":0.0018},{"s":4,"w":795,"v":0.0015},{"s":4,"w":800,"v":0.0012},{"s":4,"w":803,"v":0.0014},{"s":4,"w":806,"v":0.001},{"s":4,"w":808,"v":0.0003},{"s":4,"w":975,"v":0.0003},{"s":4,"w":978,"v":0.0014},{"s":4,"w":981,"v":0.0003},{"s":4,"w":1028,"v":0.0003},{"s":4,"w":1031,"v":0.0013},{"s":4,"w":1034,"v":0.0008},{"s":4,"w":1037,"v":0.0017},{"s":4,"w":1040,"v":0.0011},{"s":4,"w":1043,"v":0.0022},{"s":4,"w":1046,"v":0.0014},{"s":4,"w":1049,"v":0.0028},{"s":4,"w":1052,"v":0.0017},{"s":4,"w":1055,"v":0.0034},{"s":4,"w":1058,"v":0.0013},{"s":4,"w":1061,"v":0.0032},{"s":4,"w":1064,"v":0.0036},{"s":4,"w":1067,"v":0.0019},{"s":4,"w":1070,"v":0.0022},{"s":4,"w":1073,"v":0.0029},{"s":4,"w":1076,"v":0.0015},{"s":4,"w":1079,"v":0.0038},{"s":4,"w":1082,"v":0.0021},{"s":4,"w":1085,"v":0.0045},{"s":4,"w":1088,"v":0.0026},{"s":4,"w":1091,"v":0.0055},{"s":4,"w":1094,"v":0.0031},{"s":4,"w":1097,"v":0.0048},{"s":4,"w":1100,"v":0.0035},
{"s":5,"w":200,"v":0.285},{"s":5,"w":210,"v":0.3},{"s":5,"w":220,"v":0.31},{"s":5,"w":230,"v":0.315},{"s":5,"w":240,"v":0.318},{"s":5,"w":250,"v":0.316},{"s":5,"w":260,"v":0.31},{"s":5,"w":270,"v":0.3},{"s":5,"w":280,"v":0.285},{"s":5,"w":290,"v":0.265},{"s":5,"w":300,"v":0.235},{"s":5,"w":310,"v":0.2},{"s":5,"w":320,"v":0.158},{"s":5,"w":330,"v":0.122},{"s":5,"w":340,"v":0.094},{"s":5,"w":350,"v":0.07},{"s":5,"w":360,"v":0.052},{"s":5,"w":370,"v":0.039},{"s":5,"w":380,"v":0.031},{"s":5,"w":390,"v":0.026},{"s":5,"w":400,"v":0.0228},{"s":5,"w":410,"v":0.0212},{"s":5,"w":420,"v":0.02},{"s":5,"w":430,"v":0.0188},{"s":5,"w":440,"v":0.0175},{"s":5,"w":450,"v":0.0164},{"s":5,"w":460,"v":0.0153},{"s":5,"w":470,"v":0.0142},{"s":5,"w":480,"v":0.0129},{"s":5,"w":490,"v":0.0117},{"s":5,"w":500,"v":0.0106},{"s":5,"w":510,"v":0.0098},{"s":5,"w":520,"v":0.0092},{"s":5,"w":530,"v":0.0093},{"s":5,"w":540,"v":0.0101},{"s":5,"w":550,"v":0.0115},{"s":5,"w":560,"v":0.0132},{"s":5,"w":570,"v":0.015},{"s":5,"w":580,"v":0.0168},{"s":5,"w":590,"v":0.0183},{"s":5,"w":600,"v":0.0195},{"s":5,"w":610,"v":0.0202},{"s":5,"w":620,"v":0.0207},{"s":5,"w":630,"v":0.0206},{"s":5,"w":640,"v":0.0198},{"s":5,"w":650,"v":0.0183},{"s":5,"w":660,"v":0.0162},{"s":5,"w":670,"v":0.014},{"s":5,"w":680,"v":0.0118},{"s":5,"w":690,"v":0.0097},{"s":5,"w":700,"v":0.0078},{"s":5,"w":710,"v":0.0062},{"s":5,"w":720,"v":0.0049},{"s":5,"w":730,"v":0.0038},{"s":5,"w":740,"v":0.003},{"s":5,"w":745,"v":0.0026},{"s":5,"w":750,"v":0.0023},{"s":5,"w":755,"v":0.002},{"s":5,"w":760,"v":0.0016},{"s":5,"w":765,"v":0.0013},{"s":5,"w":768,"v":0.0011},{"s":5,"w":770,"v":0.0003},{"s":5,"w":1015,"v":0.0003},{"s":5,"w":1018,"v":0.0012},{"s":5,"w":1021,"v":0.0003},{"s":5,"w":1030,"v":0.0003},{"s":5,"w":1033,"v":0.0014},{"s":5,"w":1036,"v":0.0008},{"s":5,"w":1039,"v":0.0019},{"s":5,"w":1042,"v":0.0011},{"s":5,"w":1045,"v":0.0023},{"s":5,"w":1048,"v":0.0015},{"s":5,"w":1051,"v":0.0029},{"s":5,"w":1054,"v":0.0018},{"s":5,"w":1057,"v":0.0026},{"s":5,"w":1060,"v":0.0012},{"s":5,"w":1063,"v":0.0031},{"s":5,"w":1066,"v":0.0019},{"s":5,"w":1069,"v":0.0027},{"s":5,"w":1072,"v":0.0036},{"s":5,"w":1075,"v":0.0021},{"s":5,"w":1078,"v":0.0034},{"s":5,"w":1081,"v":0.0024},{"s":5,"w":1084,"v":0.0043},{"s":5,"w":1087,"v":0.0029},{"s":5,"w":1090,"v":0.0071},{"s":5,"w":1093,"v":0.0038},{"s":5,"w":1096,"v":0.0052},{"s":5,"w":1099,"v":0.0032}
]
},
"spacing": 6,
"resolve": {"scale": {"color": "independent"}},
"vconcat": [
{
  "width": 570, "height": 255,
  "layer": [
    {
      "data": {"name": "moz"},
      "mark": {"type": "line", "strokeWidth": 2.4, "clip": true},
      "encoding": {
        "x": {"field": "w", "type": "quantitative", "scale": {"domain": [200, 1100], "nice": false}, "axis": {"values": [200,300,400,500,600,700,800,900,1000,1100], "labels": false, "title": null, "grid": true}},
        "y": {"field": "v", "type": "quantitative", "scale": {"type": "log", "domain": [0.001, 1.9], "nice": false},
          "axis": {"values": [0.001,0.002,0.003,0.004,0.005,0.006,0.007,0.008,0.009,0.01,0.02,0.03,0.04,0.05,0.06,0.07,0.08,0.09,0.1,0.2,0.3,0.4,0.5,0.6,0.7,0.8,0.9,1],
            "labelExpr": "datum.value==1?'10⁰':datum.value==0.1?'10⁻¹':datum.value==0.01?'10⁻²':datum.value==0.001?'10⁻³':''",
            "labelOverlap": false, "labelPadding": 5, "title": "Absorption (arb. units)", "titlePadding": 8, "grid": true,
            "gridDash": {"condition": {"test": "datum.value==1||datum.value==0.1||datum.value==0.01||datum.value==0.001", "value": []}, "value": [1, 2]},
            "gridColor": {"condition": {"test": "datum.value==1||datum.value==0.1||datum.value==0.01||datum.value==0.001", "value": "#dcdcdc"}, "value": "#bdbdbd"}}},
        "color": {"field": "s", "type": "nominal", "scale": {"domain": [1,2,3,4,5], "range": ["#f00000", "#ff8a00", "#ffe600", "#14c814", "#0a14c8"]},
          "legend": {"labelExpr": "datum.value==1?'Moz-No filter':datum.value==2?'Moz-No filter-175 MGy':datum.value==3?'Moz-No filter-350 MGy':datum.value==4?'Moz-No filter-965 MGy':'Moz-No filter-965 MGy-30min'"}}
      }
    },
    {
      "data": {"values": [{"label": "a)"}]},
      "mark": {"type": "text", "fontSize": 22, "align": "left", "baseline": "middle", "color": "#262626"},
      "encoding": {
        "x": {"datum": 227, "type": "quantitative",
          "axis": {"orient": "top", "offset": 10, "values": [247.968, 309.96, 354.24, 413.28, 495.936, 619.92, 826.56],
            "labelExpr": "format(1239.84/datum.value, '.1~f')", "labelFlush": false, "labelOverlap": false,
            "title": "Energy (eV)", "titlePadding": 10, "labelPadding": 6, "ticks": true, "tickSize": 6, "tickColor": "#262626",
            "domain": true, "domainColor": "#1a1a1a", "domainWidth": 4, "domainDash": [2, 1], "grid": false}},
        "y": {"datum": 0.0031, "type": "quantitative", "axis": null},
        "text": {"field": "label"}
      }
    }
  ],
  "resolve": {"axis": {"x": "independent", "y": "independent"}}
},
{
  "width": 570, "height": 255,
  "layer": [
    {
      "data": {"name": "tan"},
      "mark": {"type": "line", "strokeWidth": 2.4, "clip": true},
      "encoding": {
        "x": {"field": "w", "type": "quantitative", "scale": {"domain": [200, 1100], "nice": false}, "axis": {"values": [200,300,400,500,600,700,800,900,1000,1100], "format": "d", "labelFlush": false, "labelPadding": 6, "title": "Wavelength (nm)", "titlePadding": 4, "grid": true}},
        "y": {"field": "v", "type": "quantitative", "scale": {"type": "log", "domain": [0.001, 1.9], "nice": false},
          "axis": {"values": [0.001,0.002,0.003,0.004,0.005,0.006,0.007,0.008,0.009,0.01,0.02,0.03,0.04,0.05,0.06,0.07,0.08,0.09,0.1,0.2,0.3,0.4,0.5,0.6,0.7,0.8,0.9,1],
            "labelExpr": "datum.value==1?'10⁰':datum.value==0.1?'10⁻¹':datum.value==0.01?'10⁻²':datum.value==0.001?'10⁻³':''",
            "labelOverlap": false, "labelPadding": 5, "title": "Absorption (arb. units)", "titlePadding": 8, "grid": true,
            "gridDash": {"condition": {"test": "datum.value==1||datum.value==0.1||datum.value==0.01||datum.value==0.001", "value": []}, "value": [1, 2]},
            "gridColor": {"condition": {"test": "datum.value==1||datum.value==0.1||datum.value==0.01||datum.value==0.001", "value": "#dcdcdc"}, "value": "#bdbdbd"}}},
        "color": {"field": "s", "type": "nominal", "scale": {"domain": [1,2,3,4,5], "range": ["#f00000", "#ff8a00", "#ffe600", "#14c814", "#0a14c8"]},
          "legend": {"labelExpr": "datum.value==1?'Tan-No filter':datum.value==2?'Tan-No filter-175 MGy':datum.value==3?'Tan-No filter-350 MGy':datum.value==4?'Tan-No filter-965 MGy':'Tan-No filter-965 MGy-30min'"}}
      }
    },
    {
      "data": {"values": [{"label": "b)"}]},
      "mark": {"type": "text", "fontSize": 22, "align": "left", "baseline": "middle", "color": "#262626"},
      "encoding": {
        "x": {"datum": 230, "type": "quantitative", "axis": null},
        "y": {"datum": 0.0031, "type": "quantitative", "axis": null},
        "text": {"field": "label"}
      }
    }
  ],
  "resolve": {"axis": {"x": "independent", "y": "independent"}}
}
]
}
